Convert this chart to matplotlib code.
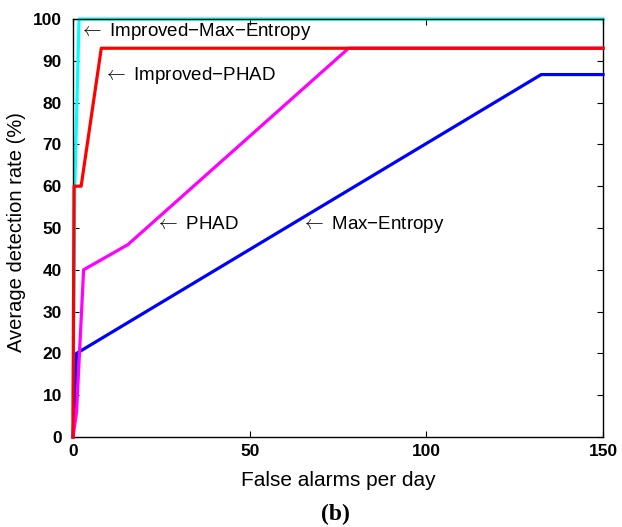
import matplotlib
matplotlib.use("Agg")
import matplotlib.pyplot as plt

# Data
imp_maxent_x = [0, 0.5, 1.7, 150]
imp_maxent_y = [0, 60, 100, 100]
imp_phad_x = [0, 0, 0.3, 2.3, 8, 150]
imp_phad_y = [0, 6, 60, 60, 93, 93]
phad_x = [0, 1, 3, 15.5, 78, 150]
phad_y = [0, 6, 40, 46, 93, 93]
maxent_x = [0, 1, 132.5, 150]
maxent_y = [0, 20, 86.7, 86.7]

x_ticks = [0, 50, 100, 150]
y_ticks = list(range(0, 101, 10))

fam = ['Liberation Sans', 'DejaVu Sans']
plt.rcParams['font.family'] = fam
plt.rcParams['mathtext.fontset'] = 'cm'

fig = plt.figure(figsize=(6.22, 5.27), dpi=100)
ax = fig.add_axes([0.1174, 0.1708, 0.8521, 0.7932])

lw = 2.3
ax.plot(imp_maxent_x, imp_maxent_y, color='#00ffff', lw=lw, clip_on=False, zorder=2)
ax.plot(maxent_x, maxent_y, color='#0000ff', lw=lw, clip_on=False, zorder=3)
ax.plot(phad_x, phad_y, color='#ff00ff', lw=lw, clip_on=False, zorder=4)
ax.plot(imp_phad_x, imp_phad_y, color='#ff0000', lw=lw, clip_on=False, zorder=5)

ax.set_xlim(0, 150)
ax.set_ylim(0, 100)
ax.set_xticks(x_ticks)
ax.set_yticks(y_ticks)
ax.tick_params(direction='in', top=True, right=True, length=4, width=0.8,
               labelsize=12.5)
ax.tick_params(axis='y', pad=8)
ax.tick_params(axis='x', pad=5)
for lab in ax.get_xticklabels() + ax.get_yticklabels():
    lab.set_fontweight('bold')
for s in ax.spines.values():
    s.set_linewidth(1.0)

ax.set_xlabel('False alarms per day', fontsize=15, labelpad=9)
ax.set_ylabel('Average detection rate (%)', fontsize=14.5, va='center')
ax.yaxis.set_label_coords(-0.107, 0.49)

tkw = dict(fontsize=13.5, va='center', ha='left')
ax.text(1.6, 97.0, r'$\leftarrow$ Improved' '\u2212Max\u2212Entropy', **tkw)
ax.text(8.4, 86.4, r'$\leftarrow$ Improved' '\u2212PHAD', **tkw)
ax.text(23.2, 50.9, r'$\leftarrow$ PHAD', **tkw)
ax.text(64.4, 50.9, r'$\leftarrow$ Max' '\u2212Entropy', **tkw)

fig.text(0.539, 0.023, '(b)', ha='center', va='center', fontsize=17,
         fontweight='bold', family=['Liberation Serif', 'DejaVu Serif'])

fig.savefig('out.png', dpi=100)
